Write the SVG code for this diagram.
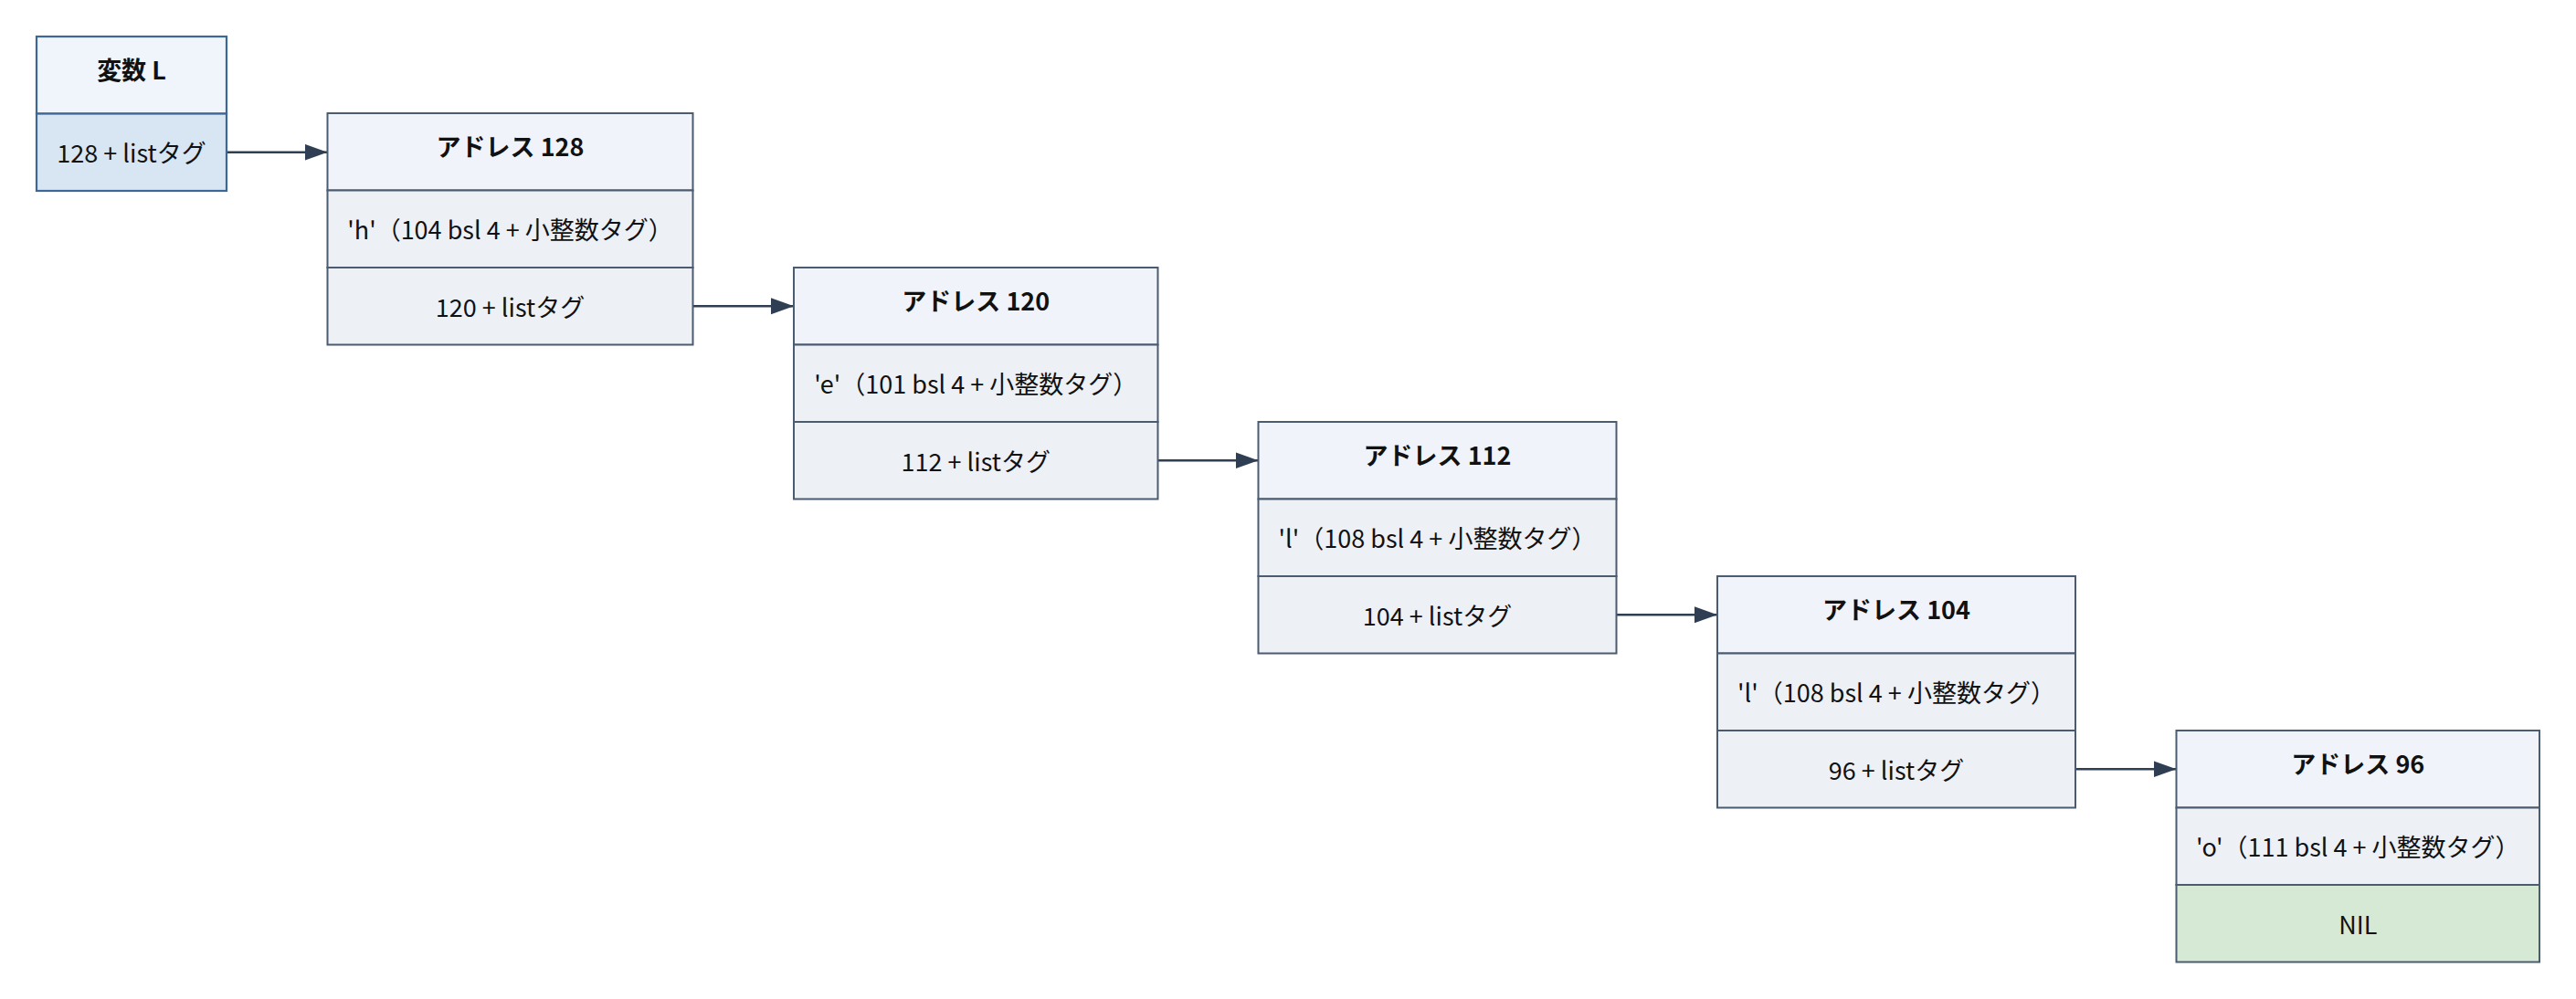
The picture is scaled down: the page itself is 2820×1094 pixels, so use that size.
<svg xmlns="http://www.w3.org/2000/svg" width="2820" height="1094" viewBox="0 0 2820 1094">
<defs>
<style>
text{font-family:"Noto Sans CJK JP","Noto Sans",sans-serif;font-size:27px;fill:#111;text-anchor:middle}
.t{font-weight:700}
.h{fill:#f0f4fa;stroke:#4b5b70;stroke-width:2}
.r{fill:#edf0f5;stroke:#4b5b70;stroke-width:2}
.hv{fill:#f0f5fb;stroke:#3d6896;stroke-width:2.2}
.rv{fill:#d8e6f3;stroke:#3d6896;stroke-width:2.2}
.nil{fill:#d6e9d5;stroke:#4b5b70;stroke-width:2}
.e{stroke:#2f3e52;stroke-width:2.6;fill:none;marker-end:url(#ah)}
</style>
<marker id="ah" markerUnits="userSpaceOnUse" markerWidth="26" markerHeight="20" refX="25" refY="9" orient="auto">
<path d="M0,0 L25,9 L0,18 z" fill="#2f3e52"/>
</marker>
</defs>
<rect width="2820" height="1094" fill="#ffffff"/>
<g id="edges">
<line class="e" x1="248" y1="166.75" x2="358.5" y2="166.75"/>
<line class="e" x1="758.5" y1="335.25" x2="869" y2="335.25"/>
<line class="e" x1="1267.5" y1="504.25" x2="1377.5" y2="504.25"/>
<line class="e" x1="1769.5" y1="673.25" x2="1880" y2="673.25"/>
<line class="e" x1="2272" y1="842.25" x2="2382.5" y2="842.25"/>
</g>
<g id="varL">
<rect class="hv" x="40" y="40" width="208" height="84.5"/>
<rect class="rv" x="40" y="124.5" width="208" height="84.5"/>
<text class="t" x="144" y="86.5">変数 L</text>
<text x="144" y="178">128 + listタグ</text>
</g>
<g id="addr128">
<rect class="h" x="358.5" y="124" width="400" height="84.5"/>
<rect class="r" x="358.5" y="208.5" width="400" height="84.5"/>
<rect class="r" x="358.5" y="293" width="400" height="84.5"/>
<text class="t" x="558.5" y="170.5">アドレス 128</text>
<text x="558.5" y="262">'h'（104 bsl 4 + 小整数タグ）</text>
<text x="558.5" y="346.5">120 + listタグ</text>
</g>
<g id="addr120">
<rect class="h" x="869" y="293" width="398.5" height="84.5"/>
<rect class="r" x="869" y="377.5" width="398.5" height="84.5"/>
<rect class="r" x="869" y="462" width="398.5" height="84.5"/>
<text class="t" x="1068.25" y="339.5">アドレス 120</text>
<text x="1068.25" y="431">'e'（101 bsl 4 + 小整数タグ）</text>
<text x="1068.25" y="515.5">112 + listタグ</text>
</g>
<g id="addr112">
<rect class="h" x="1377.5" y="462" width="392" height="84.5"/>
<rect class="r" x="1377.5" y="546.5" width="392" height="84.5"/>
<rect class="r" x="1377.5" y="631" width="392" height="84.5"/>
<text class="t" x="1573.5" y="508.5">アドレス 112</text>
<text x="1573.5" y="600">'l'（108 bsl 4 + 小整数タグ）</text>
<text x="1573.5" y="684.5">104 + listタグ</text>
</g>
<g id="addr104">
<rect class="h" x="1880" y="631" width="392" height="84.5"/>
<rect class="r" x="1880" y="715.5" width="392" height="84.5"/>
<rect class="r" x="1880" y="800" width="392" height="84.5"/>
<text class="t" x="2076" y="677.5">アドレス 104</text>
<text x="2076" y="769">'l'（108 bsl 4 + 小整数タグ）</text>
<text x="2076" y="853.5">96 + listタグ</text>
</g>
<g id="addr96">
<rect class="h" x="2382.5" y="800" width="397.5" height="84.5"/>
<rect class="r" x="2382.5" y="884.5" width="397.5" height="84.5"/>
<rect class="nil" x="2382.5" y="969" width="397.5" height="84.5"/>
<text class="t" x="2581.25" y="846.5">アドレス 96</text>
<text x="2581.25" y="938">'o'（111 bsl 4 + 小整数タグ）</text>
<text x="2581.25" y="1022.5">NIL</text>
</g>
</svg>
